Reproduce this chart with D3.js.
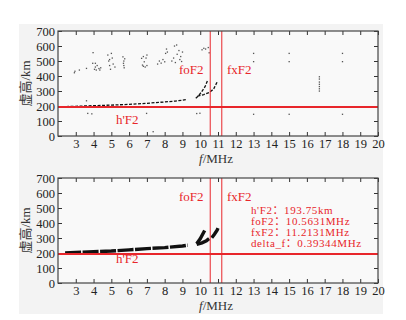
<!DOCTYPE html>
<html>
<head>
<meta charset="utf-8">
<script src="https://cdn.jsdelivr.net/npm/d3@7"></script>
<style>
  body { margin: 0; background: #fff; }
  text { font-family: "Liberation Serif", "Times New Roman", "Noto Sans CJK SC", serif; }
</style>
</head>
<body>
<svg id="chart" width="406" height="320"></svg>
<script>
// axis ticks
const freqTicks = [3, 4, 5, 6, 7, 8, 9, 10, 11, 12, 13, 14, 15, 16, 17, 18, 19, 20];
const heightTicks = [0, 100, 200, 300, 400, 500, 600, 700];

// scaled parameters
const hF2 = 193.75;
const foF2 = 10.5631;
const fxF2 = 11.2131;
const infoLines = ["h'F2：193.75km", "foF2：10.5631MHz", "fxF2：11.2131MHz", "delta_f：0.39344MHz"];

// top ionogram: raw echoes [MHz, km]
const topTrace = [[2.2, 195], [3, 198], [4, 202], [5, 206], [6, 211], [7, 218], [8, 227], [8.6, 233], [9, 239], [9.25, 244]];
const topCuspO = [[9.75, 252], [9.9, 268], [10.08, 295], [10.27, 329], [10.42, 372]];
const topCuspX = [[9.85, 266], [10.2, 276], [10.5, 290], [10.75, 312], [10.95, 360]];
const topEchoes = [
  [2.92, 422], [2.95, 432], [3.2, 440], [3.6, 451], [3.95, 485], [3.97, 556], [3.6, 235],
  [4.05, 445], [4.1, 460], [4.15, 440], [4.2, 470], [4.3, 450], [4.35, 440], [4.4, 455], [4.1, 485],
  [4.8, 540], [4.85, 500], [4.9, 470], [4.95, 445], [5.0, 551], [5.05, 520], [5.1, 480], [4.9, 510], [5.2, 460],
  [5.65, 528], [5.7, 500], [5.7, 470], [5.72, 455], [5.75, 515], [5.68, 485],
  [6.7, 518], [6.75, 473], [6.8, 465], [6.85, 495], [6.9, 460], [7.0, 540], [7.0, 470], [6.95, 520], [6.8, 530],
  [7.6, 480], [7.7, 500], [7.8, 486], [7.9, 510], [8.0, 495], [8.05, 551], [8.1, 580], [8.15, 560],
  [8.4, 500], [8.5, 520], [8.55, 600], [8.6, 490], [8.67, 607], [8.7, 545], [8.8, 570], [8.85, 510], [8.9, 530], [8.95, 497], [9.0, 560],
  [10.1, 575], [10.2, 585], [10.3, 580], [10.45, 590], [10.5, 555],
  [3.67, 151], [3.9, 148], [6.98, 151], [9.8, 150], [9.98, 152], [7.35, 29],
  [13, 551], [13, 496], [15, 551], [15, 496], [18, 551], [18, 496], [13, 145], [15, 145], [18, 145],
  [16.7, 300], [16.7, 315], [16.7, 330], [16.7, 345], [16.7, 360], [16.7, 380], [16.7, 395]
];

// bottom ionogram: extracted trace [MHz, km]
const bottomTrace = [[2.4, 200], [3, 204], [4, 209], [5, 213], [6, 221], [7, 229], [8, 236], [9, 247], [9.3, 252]];
const bottomCuspA = [[9.8, 262], [10.0, 295], [10.25, 350]];
const bottomCuspB = [[9.8, 258], [10.1, 268], [10.35, 282], [10.5, 296]];
const bottomCuspX = [[10.65, 302], [10.8, 325], [10.95, 352], [11.0, 366]];

const red = "#e8262b";
const svg = d3.select("#chart");

svg.append("rect").attr("x", 19).attr("y", 24).attr("width", 364).attr("height", 290).attr("fill", "#f3f3f3");

const x = d3.scaleLinear().domain([2, 20]).range([58, 378]);
const line = (y) => d3.line().x((d) => x(d[0])).y((d) => y(d[1]));

function panel(top, bottom) {
  const y = d3.scaleLinear().domain([0, 700]).range([bottom, top]);
  const g = svg.append("g");
  g.append("rect")
    .attr("x", x(2)).attr("y", top)
    .attr("width", x(20) - x(2)).attr("height", bottom - top)
    .attr("fill", "#f9f9f9");

  const ax = (sel) => { sel.select(".domain").remove(); sel.selectAll("line").attr("stroke", "#333"); };
  g.append("g").attr("transform", `translate(0,${bottom})`)
    .call(d3.axisBottom(x).tickValues(freqTicks).tickSize(-4).tickPadding(3)).call(ax)
    .selectAll("text").attr("font-size", 12.5).attr("fill", "#222");
  g.append("g").attr("transform", `translate(0,${top})`)
    .call(d3.axisTop(x).tickValues(freqTicks).tickSize(-4).tickFormat("")).call(ax);
  g.append("g").attr("transform", `translate(${x(2)},0)`)
    .call(d3.axisLeft(y).tickValues(heightTicks).tickSize(-4).tickPadding(3)).call(ax)
    .selectAll("text").attr("font-size", 12.5).attr("fill", "#222");
  g.append("g").attr("transform", `translate(${x(20)},0)`)
    .call(d3.axisRight(y).tickValues(heightTicks).tickSize(-4).tickFormat("")).call(ax);

  g.append("text")
    .attr("transform", `translate(30,${(top + bottom) / 2}) rotate(-90)`)
    .attr("text-anchor", "middle").attr("font-size", 13).attr("fill", "#333")
    .text("虚高/km");
  const lab = g.append("text").attr("x", 216).attr("y", bottom + 27)
    .attr("text-anchor", "middle").attr("font-size", 13).attr("fill", "#333");
  lab.append("tspan").attr("font-style", "italic").text("f");
  lab.append("tspan").text("/MHz");
  return { g, y };
}

function markers(p, top, bottom, labelY) {
  const { g, y } = p;
  g.append("line").attr("x1", x(2)).attr("x2", x(20)).attr("y1", y(hF2)).attr("y2", y(hF2))
    .attr("stroke", red).attr("stroke-width", 2);
  [foF2, fxF2].forEach((f) => {
    g.append("line").attr("x1", x(f)).attr("x2", x(f)).attr("y1", top).attr("y2", bottom)
      .attr("stroke", red).attr("stroke-width", 1);
  });
  g.append("text").attr("x", 179).attr("y", labelY).attr("font-size", 13).attr("fill", red).text("foF2");
  g.append("text").attr("x", 227).attr("y", labelY).attr("font-size", 13).attr("fill", red).text("fxF2");
  g.append("rect").attr("x", 58).attr("y", top).attr("width", 320).attr("height", bottom - top)
    .attr("fill", "none").attr("stroke", "#444").attr("stroke-width", 1.2);
}

// top panel
const p1 = panel(31, 136);
p1.g.selectAll(".echo").data(topEchoes).enter().append("rect")
  .attr("x", (d) => x(d[0]) - 0.6).attr("y", (d) => p1.y(d[1]) - 0.6)
  .attr("width", 1.3).attr("height", 1.3).attr("fill", "#555");
[topTrace, topCuspO, topCuspX].forEach((tr) => {
  p1.g.append("path").datum(tr).attr("d", line(p1.y)).attr("fill", "none")
    .attr("stroke", "#111").attr("stroke-width", 1.3).attr("stroke-dasharray", "3 1.5");
});
markers(p1, 31, 136, 74);
p1.g.append("text").attr("x", 116).attr("y", 124).attr("font-size", 13).attr("fill", red).text("h'F2");

// bottom panel
const p2 = panel(178, 283);
[bottomTrace, bottomCuspA, bottomCuspB, bottomCuspX].forEach((tr) => {
  p2.g.append("path").datum(tr).attr("d", line(p2.y)).attr("fill", "none")
    .attr("stroke", "#111").attr("stroke-width", 3.4).attr("stroke-dasharray", "16 1.5");
});
markers(p2, 178, 283, 201);
p2.g.append("text").attr("x", 116).attr("y", 263).attr("font-size", 13).attr("fill", red).text("h'F2");
p2.g.selectAll(".info").data(infoLines).enter().append("text")
  .attr("x", 251).attr("y", (d, i) => 214 + i * 11)
  .attr("font-size", 11).attr("letter-spacing", 0.6).attr("fill", red).text((d) => d);
</script>
</body>
</html>
